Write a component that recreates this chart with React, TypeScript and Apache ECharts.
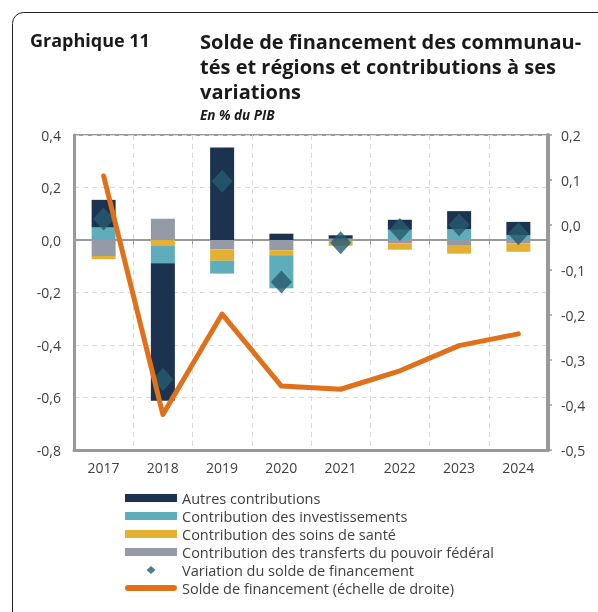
import React, { useEffect, useRef } from "react";
import * as echarts from "echarts";

const years = ["2017", "2018", "2019", "2020", "2021", "2022", "2023", "2024"];
const autres = [0.105, -0.523, 0.352, 0.024, 0.013, 0.038, 0.069, 0.05];
const investissements = [0.048, -0.066, -0.049, -0.126, 0.005, 0.039, 0.041, 0.019];
const soins = [-0.012, -0.023, -0.043, -0.019, -0.018, -0.024, -0.03, -0.032];
const transferts = [-0.061, 0.081, -0.036, -0.039, -0.004, -0.013, -0.022, -0.013];
const variation = [0.08, -0.531, 0.224, -0.16, -0.01, 0.04, 0.058, 0.024];
const solde = [0.109, -0.421, -0.198, -0.358, -0.365, -0.324, -0.268, -0.242];

const names = [
  "Autres contributions",
  "Contribution des investissements",
  "Contribution des soins de santé",
  "Contribution des transferts du pouvoir fédéral",
  "Variation du solde de financement",
  "Solde de financement (échelle de droite)",
];

const FONT = "'Open Sans', sans-serif";
const TXT = "#404040";
const fmt = (v: number) => v.toFixed(1).replace(".", ",");

const DIAMOND_ICON = "path://M0,4L0.01,4L0,4.01ZM21.5,4L26,0L30.5,4L26,8ZM52,4L51.99,4L52,4.01Z";
const LINE_ICON = "path://M3,1H49A3,3,0,0,1,49,7H3A3,3,0,0,1,3,1ZM0,0L0.01,0L0,0.01ZM52,8L51.99,8L52,7.99Z";

export default function App() {
  const ref = useRef<HTMLDivElement>(null);
  useEffect(() => {
    if (!ref.current) return;
    const chart = echarts.init(ref.current, undefined, { renderer: "svg" });
    const barBase = { type: "bar", stack: "c", barWidth: 24, xAxisIndex: 0, yAxisIndex: 0, z: 2 };
    const titleStyle = { fontSize: 20, fontWeight: "bold", fill: "#1a1a1a", fontFamily: FONT };
    chart.setOption({
      animation: false,
      textStyle: { fontFamily: FONT },
      graphic: [
        {
          type: "rect",
          shape: { x: 12.5, y: 12.5, width: 620, height: 640, r: 11 },
          style: { fill: "none", stroke: "#222", lineWidth: 1 },
          silent: true,
        },
        { type: "text", left: 30, top: 31, style: { ...titleStyle, text: "Graphique 11", fontSize: 18 } },
        {
          type: "text",
          left: 200,
          top: 29,
          style: {
            ...titleStyle,
            lineHeight: 25,
            text: "Solde de financement des communau-\ntés et régions et contributions à ses\nvariations",
          },
        },
        { type: "text", left: 200, top: 108, style: { text: "En % du PIB", fontSize: 13.5, fontWeight: "bold", fontStyle: "italic", fill: "#1a1a1a", fontFamily: FONT } },
      ],
      grid: { left: 74, right: 50, top: 135, bottom: 162, show: true, borderColor: "#999", borderWidth: 2 },
      legend: {
        orient: "vertical",
        left: 125,
        top: 489,
        padding: 0,
        itemWidth: 52,
        itemHeight: 8,
        itemGap: 0,
        textStyle: { fontSize: 14.5, color: TXT, lineHeight: 18, fontFamily: FONT },
        data: [
          { name: names[0], icon: "rect" },
          { name: names[1], icon: "rect" },
          { name: names[2], icon: "rect" },
          { name: names[3], icon: "rect" },
          { name: names[4], icon: DIAMOND_ICON },
          { name: names[5], icon: LINE_ICON },
        ],
      },
      xAxis: [
        {
          type: "category",
          data: years,
          position: "bottom",
          axisLine: { onZero: true, lineStyle: { color: "#999", width: 2 } },
          axisTick: { show: true, length: 4, lineStyle: { color: "#999", width: 1 } },
          axisLabel: { show: false },
          splitLine: { show: true, lineStyle: { color: "#d9d9d9", type: [5, 4], width: 1 } },
        },
        {
          type: "category",
          data: years,
          position: "bottom",
          axisLine: { onZero: false, lineStyle: { color: "#999", width: 3 } },
          axisTick: { show: false },
          axisLabel: { fontSize: 14, color: TXT, margin: 10, fontFamily: FONT },
          splitLine: { show: false },
        },
      ],
      yAxis: [
        {
          type: "value",
          min: -0.8,
          max: 0.4,
          interval: 0.2,
          axisLine: { show: true, lineStyle: { color: "#999", width: 3 } },
          axisTick: { show: false },
          axisLabel: { formatter: fmt, fontSize: 14, color: TXT, margin: 13, fontFamily: FONT },
          splitLine: { show: true, lineStyle: { color: "#d9d9d9", type: [5, 4], width: 1 } },
        },
        {
          type: "value",
          position: "right",
          min: -0.5,
          max: 0.2,
          interval: 0.1,
          axisLine: { show: true, lineStyle: { color: "#999", width: 4 } },
          axisTick: { show: true, length: 4, lineStyle: { color: "#999", width: 1.5 } },
          axisLabel: { formatter: fmt, fontSize: 14, color: TXT, margin: 13, fontFamily: FONT },
          splitLine: { show: false },
        },
      ],
      series: [
        { ...barBase, name: names[3], data: transferts, itemStyle: { color: "#949BA6" } },
        { ...barBase, name: names[2], data: soins, itemStyle: { color: "#E3B034" } },
        { ...barBase, name: names[1], data: investissements, itemStyle: { color: "#5FACBA" } },
        { ...barBase, name: names[0], data: autres, itemStyle: { color: "#1B334F" } },
        {
          type: "scatter",
          name: names[4],
          data: variation,
          symbol: "diamond",
          symbolSize: [21, 23],
          itemStyle: { color: "#255B6E" },
          xAxisIndex: 0,
          yAxisIndex: 0,
          z: 3,
        },
        {
          type: "line",
          name: names[5],
          data: solde,
          yAxisIndex: 1,
          xAxisIndex: 0,
          symbol: "none",
          lineStyle: { color: "#E0711A", width: 5, cap: "round", join: "round" },
          itemStyle: { color: "#E0711A" },
          z: 4,
        },
      ],
    });
    return () => chart.dispose();
  }, []);
  return <div ref={ref} style={{ position: "fixed", left: 0, top: 0, width: 598, height: 612 }} />;
}
